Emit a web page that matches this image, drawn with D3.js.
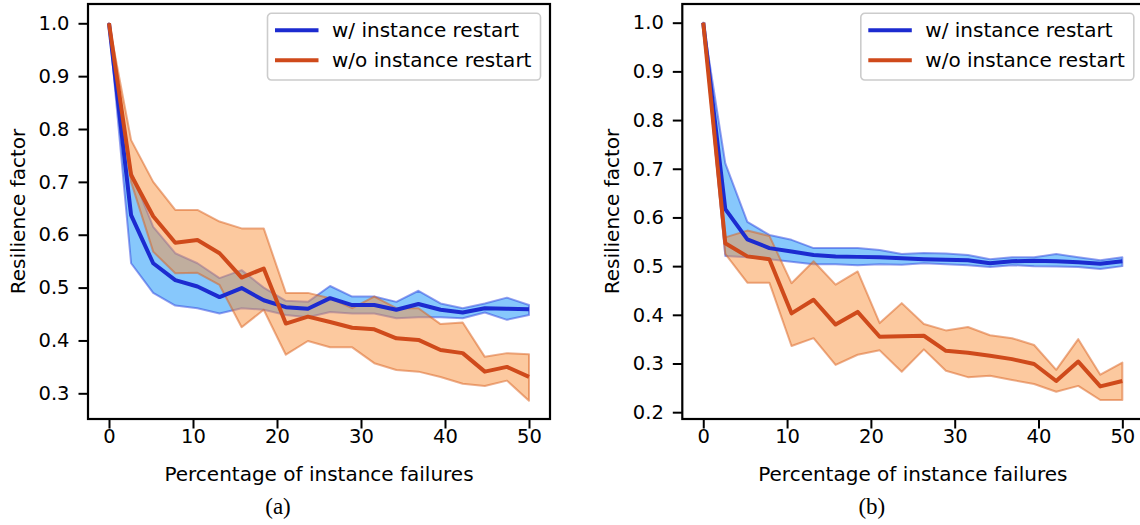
<!DOCTYPE html>
<html>
<head>
<meta charset="utf-8">
<script src="https://cdn.jsdelivr.net/npm/d3@7/dist/d3.min.js"></script>
<style>
    body { margin: 0; background: #fff; }
    svg { display: block; }
    .tick text { font-family: 'DejaVu Sans', sans-serif; font-size: 19.5px; fill: #000; }
</style>
</head>
<body>
<svg id="chart" width="1140" height="525"></svg>
<script>
// percentage of failed instances (x positions shared by both panels)
const failurePct = [0, 2.63, 5.26, 7.89, 10.53, 13.16, 15.79, 18.42, 21.05, 23.68,
                    26.32, 28.95, 31.58, 34.21, 36.84, 39.47, 42.11, 44.74, 47.37, 50];

// panel (a)
const restartMeanA  = [1.0, 0.637, 0.546, 0.514, 0.502, 0.482, 0.499, 0.476, 0.463, 0.460,
                       0.480, 0.467, 0.467, 0.458, 0.469, 0.458, 0.453, 0.461, 0.460, 0.459];
const restartUpperA = [1.0, 0.720, 0.615, 0.565, 0.546, 0.518, 0.533, 0.500, 0.475, 0.473,
                       0.503, 0.483, 0.483, 0.473, 0.494, 0.470, 0.461, 0.470, 0.481, 0.467];
const restartLowerA = [1.0, 0.546, 0.490, 0.466, 0.461, 0.451, 0.461, 0.458, 0.448, 0.444,
                       0.454, 0.451, 0.451, 0.442, 0.444, 0.444, 0.442, 0.453, 0.439, 0.448];
const noRestartMeanA  = [1.0, 0.713, 0.635, 0.585, 0.590, 0.565, 0.519, 0.536, 0.432, 0.445,
                         0.435, 0.424, 0.421, 0.404, 0.401, 0.382, 0.376, 0.341, 0.350, 0.331];
const noRestartUpperA = [1.0, 0.779, 0.700, 0.647, 0.647, 0.625, 0.612, 0.612, 0.490, 0.490,
                         0.480, 0.461, 0.483, 0.461, 0.461, 0.431, 0.434, 0.369, 0.376, 0.374];
const noRestartLowerA = [1.0, 0.700, 0.568, 0.527, 0.528, 0.505, 0.425, 0.458, 0.373, 0.399,
                         0.387, 0.387, 0.357, 0.344, 0.341, 0.331, 0.318, 0.314, 0.324, 0.286];

// panel (b)
const restartMeanB  = [1.0, 0.617, 0.555, 0.537, 0.530, 0.523, 0.520, 0.519, 0.518, 0.516,
                       0.514, 0.513, 0.512, 0.506, 0.510, 0.511, 0.510, 0.508, 0.505, 0.510];
const restartUpperB = [1.0, 0.711, 0.591, 0.564, 0.554, 0.537, 0.537, 0.537, 0.533, 0.525,
                       0.527, 0.526, 0.523, 0.514, 0.518, 0.518, 0.525, 0.518, 0.512, 0.518];
const restartLowerB = [1.0, 0.521, 0.518, 0.514, 0.509, 0.504, 0.504, 0.502, 0.504, 0.503,
                       0.506, 0.504, 0.502, 0.498, 0.502, 0.500, 0.499, 0.498, 0.494, 0.500];
const noRestartMeanB  = [1.0, 0.547, 0.520, 0.514, 0.403, 0.431, 0.380, 0.406, 0.355, 0.356,
                         0.357, 0.326, 0.322, 0.316, 0.309, 0.299, 0.264, 0.304, 0.253, 0.264];
const noRestartUpperB = [1.0, 0.559, 0.573, 0.562, 0.465, 0.510, 0.462, 0.489, 0.383, 0.424,
                         0.381, 0.368, 0.375, 0.358, 0.352, 0.338, 0.287, 0.350, 0.277, 0.302];
const noRestartLowerB = [1.0, 0.525, 0.466, 0.466, 0.336, 0.352, 0.297, 0.318, 0.327, 0.283,
                         0.329, 0.285, 0.272, 0.275, 0.266, 0.258, 0.242, 0.254, 0.225, 0.225];

const xTicks = [0, 10, 20, 30, 40, 50];
const yTicksA = [0.3, 0.4, 0.5, 0.6, 0.7, 0.8, 0.9, 1.0];
const yTicksB = [0.2, 0.3, 0.4, 0.5, 0.6, 0.7, 0.8, 0.9, 1.0];
const seriesNames = ['w/ instance restart', 'w/o instance restart'];

const styles = [
    {line: '#1c2bd0', fill: '#0f91fa', edge: '#2a3fe0'},
    {line: '#cf4a1b', fill: '#fa9440', edge: '#d9601e'}
];

function zipSeries(mean, upper, lower) {
    return failurePct.map(function(x, i) {
        return {x: x, mean: mean[i], upper: upper[i], lower: lower[i]};
    });
}

const panels = [
    {
        id: 'a', left: 88, right: 550, top: 4, bottom: 419,
        yDomain: [0.2514, 1.0365], yTicks: yTicksA, caption: '(a)',
        series: [zipSeries(restartMeanA, restartUpperA, restartLowerA),
                 zipSeries(noRestartMeanA, noRestartUpperA, noRestartLowerA)]
    },
    {
        id: 'b', left: 682.3, right: 1143.3, top: 4, bottom: 419,
        yDomain: [0.186, 1.0384], yTicks: yTicksB, caption: '(b)',
        series: [zipSeries(restartMeanB, restartUpperB, restartLowerB),
                 zipSeries(noRestartMeanB, noRestartUpperB, noRestartLowerB)]
    }
];

var svg = d3.select('#chart');

panels.forEach(function(p) {
    var x = d3.scaleLinear().domain([-2.5, 52.5]).range([p.left, p.right]);
    var y = d3.scaleLinear().domain(p.yDomain).range([p.bottom, p.top]);

    svg.append('clipPath')
        .attr('id', 'clip-' + p.id)
        .append('rect')
        .attr('x', p.left)
        .attr('y', p.top)
        .attr('width', p.right - p.left)
        .attr('height', p.bottom - p.top);

    var plot = svg.append('g').attr('clip-path', 'url(#clip-' + p.id + ')');

    var band = d3.area()
        .x(function(d) { return x(d.x); })
        .y0(function(d) { return y(d.lower); })
        .y1(function(d) { return y(d.upper); });

    var meanLine = d3.line()
        .x(function(d) { return x(d.x); })
        .y(function(d) { return y(d.mean); });

    // bands first, blue under orange
    p.series.forEach(function(s, k) {
        plot.append('path')
            .datum(s)
            .attr('d', band)
            .attr('fill', styles[k].fill)
            .attr('fill-opacity', 0.5)
            .attr('stroke', styles[k].edge)
            .attr('stroke-opacity', 0.5)
            .attr('stroke-width', 2)
            .attr('stroke-linejoin', 'round');
    });

    p.series.forEach(function(s, k) {
        plot.append('path')
            .datum(s)
            .attr('d', meanLine)
            .attr('fill', 'none')
            .attr('stroke', styles[k].line)
            .attr('stroke-width', 4)
            .attr('stroke-linejoin', 'round');
    });

    // axes
    var xAxis = svg.append('g')
        .attr('transform', 'translate(0,' + p.bottom + ')')
        .call(d3.axisBottom(x).tickValues(xTicks).tickSize(9.5).tickPadding(14).tickSizeOuter(0));
    var yAxis = svg.append('g')
        .attr('transform', 'translate(' + p.left + ',0)')
        .call(d3.axisLeft(y).tickValues(p.yTicks).tickSize(9.5).tickPadding(9)
              .tickSizeOuter(0).tickFormat(d3.format('.1f')));
    xAxis.selectAll('.tick text').attr('dy', 0);
    [xAxis, yAxis].forEach(function(ax) {
        ax.select('.domain').remove();
        ax.selectAll('.tick line').attr('stroke', '#000').attr('stroke-width', 2);
    });

    svg.append('rect')
        .attr('x', p.left)
        .attr('y', p.top)
        .attr('width', p.right - p.left)
        .attr('height', p.bottom - p.top)
        .attr('fill', 'none')
        .attr('stroke', '#000')
        .attr('stroke-width', 2.2);

    // axis titles
    svg.append('text')
        .attr('x', x(25))
        .attr('y', 481)
        .attr('text-anchor', 'middle')
        .style('font-family', "'DejaVu Sans', sans-serif")
        .style('font-size', '20px')
        .text('Percentage of instance failures');

    var midY = (p.top + p.bottom) / 2;
    svg.append('text')
        .attr('transform', 'translate(' + (p.left - 63) + ',' + midY + ') rotate(-90)')
        .attr('text-anchor', 'middle')
        .style('font-family', "'DejaVu Sans', sans-serif")
        .style('font-size', '20px')
        .text('Resilience factor');

    svg.append('text')
        .attr('x', x(25) - 41)
        .attr('y', 514)
        .attr('text-anchor', 'middle')
        .style('font-family', "'Liberation Serif', 'Times New Roman', serif")
        .style('font-size', '23px')
        .text(p.caption);

    // legend
    var boxW = 273, boxH = 66.7;
    var boxX = p.right - 9.5 - boxW, boxY = 13.3;
    var legend = svg.append('g').attr('transform', 'translate(' + boxX + ',' + boxY + ')');
    legend.append('rect')
        .attr('width', boxW)
        .attr('height', boxH)
        .attr('rx', 4)
        .attr('fill', '#fff')
        .attr('fill-opacity', 0.8)
        .attr('stroke', '#cccccc')
        .attr('stroke-width', 1.6);
    seriesNames.forEach(function(name, k) {
        var rowY = 17 + k * 30;
        legend.append('line')
            .attr('x1', 7.5)
            .attr('x2', 51)
            .attr('y1', rowY)
            .attr('y2', rowY)
            .attr('stroke', styles[k].line)
            .attr('stroke-width', 4);
        legend.append('text')
            .attr('x', 64.5)
            .attr('y', rowY + 7)
            .style('font-family', "'DejaVu Sans', sans-serif")
            .style('font-size', '20px')
            .text(name);
    });
});
</script>
</body>
</html>
